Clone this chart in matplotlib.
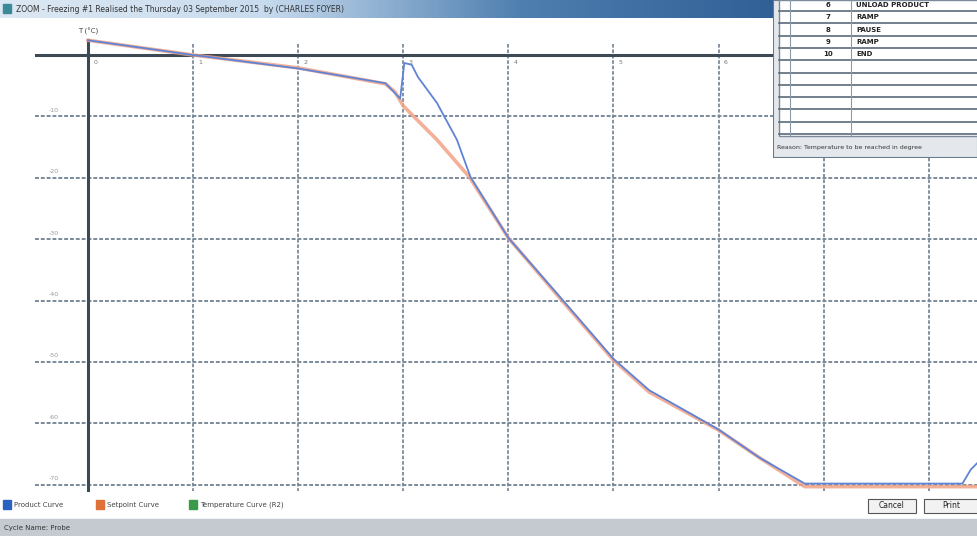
import numpy as np
import matplotlib
matplotlib.use("Agg")
import matplotlib.pyplot as plt
from matplotlib.patches import Rectangle

# time in hours, temperature in degC
setpoint_t = [0, 1.0, 2.0, 2.83, 2.92, 3.0, 3.32, 3.63, 4.0, 4.49, 5.0, 5.34, 6.0, 6.39, 6.82, 8.47]
setpoint_T = [2.4, 0, -2.1, -4.7, -6.0, -8.3, -13.8, -19.9, -29.8, -39.6, -49.7, -54.9, -61.1, -65.6, -70.3, -70.3]

product_t = [0, 1.0, 2.0, 2.83, 2.92, 2.97, 3.01, 3.08, 3.14, 3.32, 3.51, 3.64, 4.0, 4.49,
             5.0, 5.34, 6.0, 6.39, 6.82, 8.32, 8.40, 8.47]
product_T = [2.4, 0, -2.2, -4.6, -6.2, -7.1, -1.3, -1.6, -3.6, -7.8, -13.8, -19.9, -29.8, -39.4,
             -49.5, -54.6, -61.0, -65.6, -69.8, -69.8, -67.5, -66.3]

y_ticks = [-10, -20, -30, -40, -50, -60, -70]
x_ticks = [0, 1, 2, 3, 4, 5, 6, 7, 8]

step_nums = ["6", "7", "8", "9", "10"]
step_names = ["UNLOAD PRODUCT", "RAMP", "PAUSE", "RAMP", "END"]

legend_names = ["Product Curve", "Setpoint Curve", "Temperature Curve (R2)"]
legend_cols = ["#2a62c0", "#e0703a", "#3a9a4a"]

W, H = 978, 536
fig = plt.figure(figsize=(W / 100, H / 100), dpi=100)

# window chrome in pixel coordinates
bg = fig.add_axes([0, 0, 1, 1])
bg.set_xlim(0, W)
bg.set_ylim(H, 0)
bg.axis("off")
bg.add_patch(Rectangle((0, 0), W, H, color="white", zorder=0))

# title bar gradient
grad = np.linspace(0, 1, 300).reshape(1, -1)
bg.imshow(grad, extent=(0, 780, 18, 0), aspect="auto", zorder=1,
          cmap=matplotlib.colors.LinearSegmentedColormap.from_list("tb", ["#dce8f3", "#c9dcef", "#4f7fb0", "#2f5f95"]))
bg.add_patch(Rectangle((3, 4), 8, 9, color="#3a8a9a", zorder=2))
bg.text(16, 9, "ZOOM - Freezing #1 Realised the Thursday 03 September 2015  by (CHARLES FOYER)",
        fontsize=5.5, color="#333333", va="center", ha="left", zorder=3)

# legend at bottom
lx = [3, 96, 189]
for x0, name, col in zip(lx, legend_names, legend_cols):
    bg.add_patch(Rectangle((x0, 500), 8, 9, color=col, zorder=2))
    bg.text(x0 + 11, 505, name, fontsize=5, color="#444444", va="center", zorder=3)

# buttons
for x0, w, lab in [(868, 48, "Cancel"), (924, 54, "Print")]:
    bg.add_patch(Rectangle((x0, 499), w, 14, facecolor="#f2f2f2", edgecolor="#555555", lw=0.8, zorder=2))
    bg.text(x0 + w / 2, 506, lab, fontsize=5.5, color="#222222", ha="center", va="center", zorder=3)

# status bar
bg.add_patch(Rectangle((0, 519), W, 17, color="#c5cad0", zorder=2))
bg.text(4, 528, "Cycle Name: Probe", fontsize=5, color="#333333", va="center", zorder=3)

# chart axes
px_left, px_right, px_top, px_bot = 35, 978, 22, 495
x0px, xstep = 88, 105.1
y0px, ystep = 55, 6.14
ax = fig.add_axes([px_left / W, (H - px_bot) / H, (px_right - px_left) / W, (px_bot - px_top) / H])
ax.set_xlim((px_left - x0px) / xstep, (px_right - x0px) / xstep)
ax.set_ylim(-(px_bot - y0px) / ystep, (y0px - px_top) / ystep)
ax.axis("off")
ax.patch.set_alpha(0)

for xt in x_ticks[1:]:
    ax.plot([xt, xt], [1.8, -71.0], color="#7a8a9a", lw=1.3, ls=(0, (2, 1)), zorder=1)
for yt in y_ticks:
    ax.plot([-0.5, 8.5], [yt, yt], color="#7a8a9a", lw=1.4, ls=(0, (2, 1)), zorder=1)
    ax.text(-0.33, yt + 0.6, str(yt), fontsize=4.5, color="#999999", ha="center", va="bottom")
for xt in x_ticks:
    ax.text(xt + 0.05, -0.8, str(xt), fontsize=4.5, color="#777777", ha="left", va="top")

ax.plot([-0.5, 8.5], [0, 0], color="#3d4a55", lw=2.2, zorder=2)
ax.plot([0, 0], [2.5, -70.8], color="#3d4a55", lw=2.2, zorder=2)
ax.text(0.0, 3.2, "T (°C)", fontsize=5, color="#444444", ha="center", va="bottom")

ax.plot(setpoint_t, setpoint_T, color="#f2a286", lw=2.6, alpha=0.85, zorder=3)
ax.plot(product_t, product_T, color="#5f84d6", lw=1.3, zorder=4)

# step table window, top right
tb = fig.add_axes([773 / W, (H - 158) / H, (W - 773) / W, 158 / H])
tb.set_xlim(773, W)
tb.set_ylim(158, 0)
tb.axis("off")
tb.add_patch(Rectangle((773, 0), W - 773, 158, facecolor="#e4e8ec", edgecolor="#6a7a8a", lw=1.5))
tb.add_patch(Rectangle((779, 0), W - 779, 136, facecolor="white", edgecolor="#7a8a9a", lw=1))
row_h = 12.3
for i in range(11):
    y = 11 + i * row_h
    tb.plot([779, W], [y, y], color="#5a6a7a", lw=1.2)
for xc in [790, 851]:
    tb.plot([xc, xc], [0, 136], color="#8a9aaa", lw=0.8)
for i, (num, name) in enumerate(zip(step_nums, step_names)):
    y = 5 + i * row_h
    tb.text(828, y, num, fontsize=5, color="#222222", ha="center", va="center", fontweight="bold")
    tb.text(856, y, name, fontsize=5, color="#222222", ha="left", va="center", fontweight="bold")
tb.text(777, 148, "Reason: Temperature to be reached in degree", fontsize=4.5, color="#333333", va="center")

fig.savefig("out.png", dpi=100)
